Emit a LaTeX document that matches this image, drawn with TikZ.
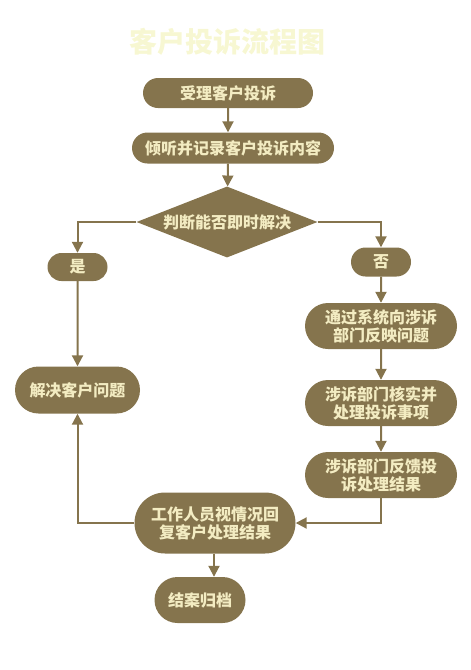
\documentclass[tikz,border=0pt]{standalone}
\usepackage{fontspec}
\usepackage{xcolor}
\usepackage{tikz}
\usetikzlibrary{shapes.misc,shapes.geometric,arrows.meta}
\newfontfamily\cjk{Noto Sans CJK SC}
\definecolor{boxbrown}{HTML}{85744D}
\definecolor{boxtext}{HTML}{F3ECC2}
\definecolor{titletext}{HTML}{F7F7D2}

\begin{document}
\begin{tikzpicture}[x=1pt, y=-1pt,
    every node/.style={font=\cjk\bfseries\fontsize{16}{18}\selectfont, text=boxtext, align=center},
    capsule/.style={rounded rectangle, fill=boxbrown, inner sep=0pt},
    decide/.style={diamond, fill=boxbrown, inner sep=0pt, aspect=2.54, minimum width=181, minimum height=71},
    arr/.style={draw=boxbrown, line width=2pt, -{Triangle[length=11pt,width=11pt]}}]
    \useasboundingbox (0,0) rectangle (471,670);
    % Title
    \node[font=\cjk\bfseries\fontsize{28}{30}\selectfont, text=titletext] (title) at (227,42) {客户投诉流程图};
    % Steps
    \node[capsule, minimum width=170, minimum height=30] (accept) at (228,93) {受理客户投诉};
    \node[capsule, minimum width=202, minimum height=31] (listen) at (233,148) {倾听并记录客户投诉内容};
    \node[decide] (judge) at (227,222) {判断能否即时解决};
    \node[capsule, minimum width=60, minimum height=28] (yes) at (77.5,267) {是};
    \node[capsule, minimum width=60, minimum height=29] (no) at (381,262) {否};
    \node[capsule, minimum width=152, minimum height=46] (notify) at (381,326) {通过系统向涉诉\\部门反映问题};
    \node[capsule, minimum width=152, minimum height=46] (verify) at (381,403) {涉诉部门核实并\\处理投诉事项};
    \node[capsule, minimum width=152, minimum height=46] (feedback) at (381,475) {涉诉部门反馈投\\诉处理结果};
    \node[capsule, minimum width=125, minimum height=47] (solve) at (77.5,390) {解决客户问题};
    \node[capsule, minimum width=161, minimum height=61] (reply) at (215,523) {工作人员视情况回\\复客户处理结果};
    \node[capsule, minimum width=91, minimum height=46] (archive) at (200,600) {结案归档};

    % Flow
    \draw[arr] (accept) -- (accept.south |- listen.north);
    \draw[arr] (accept.south |- listen.south) -- (judge);
    \draw[arr] (judge.west) -| (yes);
    \draw[arr] (judge.east) -| (no);
    \draw[arr] (yes) -- (solve);
    \draw[arr] (no) -- (notify);
    \draw[arr] (notify) -- (verify);
    \draw[arr] (verify) -- (feedback);
    \draw[arr] (feedback) |- (reply);
    \draw[arr] (reply) -| (solve);
    \draw[arr] ([xshift=-1pt]reply.south) -- ([xshift=-1pt]reply.south |- archive.north);
\end{tikzpicture}
\end{document}
